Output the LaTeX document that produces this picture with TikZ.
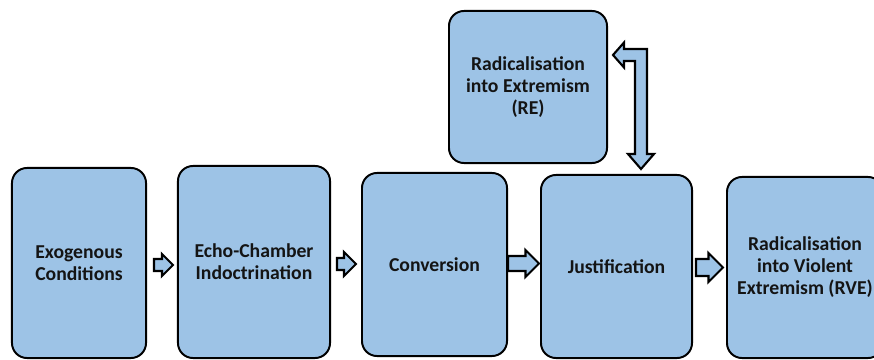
\documentclass[tikz,border=0pt]{standalone}
\usepackage{fontspec}
\setmainfont{Carlito}
\usetikzlibrary{positioning,calc}

\definecolor{boxblue}{HTML}{9DC3E6}
\newcommand{\px}{0.025cm}
% block arrow: tail, tip, shaft half width, head half width (px)
\newcommand{\fatarrow}[4]{%
  \draw[arrowbox] let \p1=(#1), \p2=(#2) in
    (\x1,\y1+#3*\px) -- (\x2-#4*\px,\y1+#3*\px) -- (\x2-#4*\px,\y1+#4*\px)
    -- (\x2,\y1) -- (\x2-#4*\px,\y1-#4*\px) -- (\x2-#4*\px,\y1-#3*\px)
    -- (\x1,\y1-#3*\px) -- cycle;
}

\begin{document}
\begin{tikzpicture}[x=0.025cm, y=-0.025cm,
        stage/.style={rectangle, rounded corners=0.375cm, draw=black, line width=1.4pt, fill=boxblue, text=black!92, align=center, font=\bfseries\fontsize{14}{15.6}\selectfont},
        arrowbox/.style={draw=black, line width=1.5pt, fill=boxblue, line join=miter}
    ]
    \useasboundingbox (0,0) rectangle (874,360);

    % stages
    \node[stage, minimum width=3.35cm, minimum height=4.75cm] (exo) at (79,263) {Exogenous\\Conditions};
    \node[stage, minimum width=3.8cm, minimum height=4.8cm] (echo) at (254,262) {Echo-Chamber\\Indoctrination};
    \node[stage, minimum width=3.625cm, minimum height=4.575cm] (conv) at (434.5,264.5) {Conversion};
    \node[stage, minimum width=3.775cm, minimum height=4.575cm] (just) at (616.5,266.5) {Justification};
    \node[stage, minimum width=3.9cm, minimum height=4.525cm] (rve) at (805,267.5) {Radicalisation\\into Violent\\Extremism (RVE)};
    \node[stage, minimum width=3.95cm, minimum height=3.8cm] (re) at (528,87) {Radicalisation\\into Extremism\\(RE)};

    % arrows between stages
    \fatarrow{$(exo.east)+(7,2)$}{$(echo.west)+(-4,0)$}{6}{11}
    \fatarrow{$(echo.east)+(6,2)$}{$(conv.west)+(-5,0)$}{6}{12}
    \fatarrow{$(conv.east)+(0,-1)$}{$(just.west)+(-1,0)$}{7.5}{13.5}
    \fatarrow{$(just.east)+(3,1)$}{$(rve.west)+(-3,0)$}{8.5}{14.5}

    % two-way link RE <-> justification
    \coordinate (reTip) at ($(re.east)+(5,-32)$);
    \coordinate (jTip) at ($(just.north)+(24.5,-5)$);
    \draw[arrowbox] let \p1=(reTip), \p2=(jTip) in
        (\x1,\y1) -- (\x1+11*\px,\y1+12.5*\px) -- (\x1+11*\px,\y1+6*\px) -- (\x2+6*\px,\y1+6*\px)
        -- (\x2+6*\px,\y2+15*\px) -- (\x2+13*\px,\y2+15*\px) -- (\x2,\y2) -- (\x2-13*\px,\y2+15*\px)
        -- (\x2-6*\px,\y2+15*\px) -- (\x2-6*\px,\y1-6*\px) -- (\x1+11*\px,\y1-6*\px)
        -- (\x1+11*\px,\y1-12.5*\px) -- cycle;
\end{tikzpicture}
\end{document}
